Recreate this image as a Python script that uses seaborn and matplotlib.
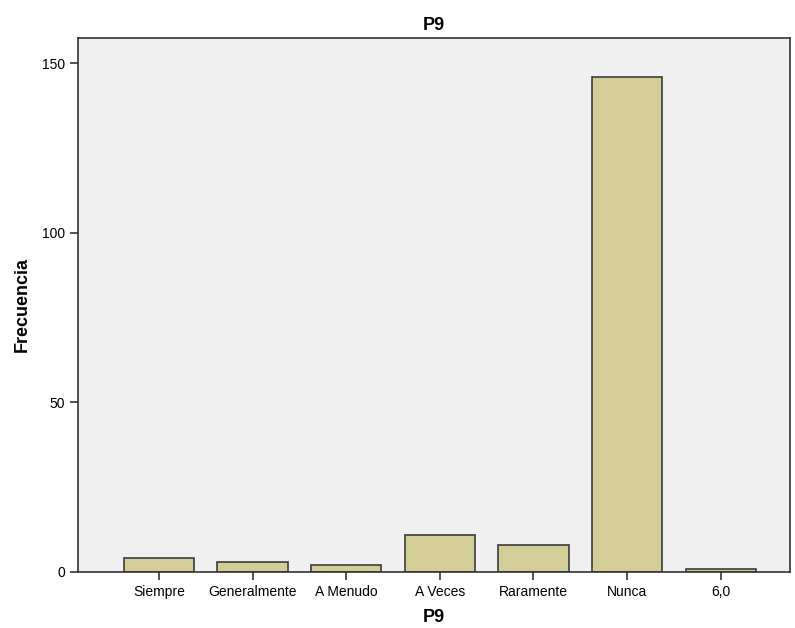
import seaborn as sns
import pandas as pd
from matplotlib import pyplot as plt

categorias = ['Siempre', 'Generalmente', 'A Menudo', 'A Veces', 'Raramente', 'Nunca', '6,0']
frecuencia = [4, 3, 2, 11, 8, 146, 1]

df = pd.DataFrame({'P9': categorias, 'Frecuencia': frecuencia})

sns.set_style('ticks')
plt.rcParams['font.family'] = ['Liberation Sans', 'DejaVu Sans']
plt.rcParams['text.color'] = 'black'
plt.rcParams['axes.labelcolor'] = 'black'
plt.rcParams['xtick.color'] = 'black'
plt.rcParams['ytick.color'] = 'black'

fig = plt.figure(figsize=(7.95, 6.28), dpi=100)
ax = fig.add_axes([0.0981, 0.0892, 0.8956, 0.8503])
ax.set_facecolor('#f0f0f0')

sns.barplot(data=df, x='P9', y='Frecuencia', color='#d3ce97', saturation=1,
            width=0.75, edgecolor='#3c3c3c', linewidth=1.2, ax=ax)

ax.set_xlim(-0.865, 6.74)
ax.set_ylim(0, 157.5)
ax.set_yticks([0, 50, 100, 150])
ax.tick_params(axis='both', labelsize=10, length=6, width=1.2, color='#333333')
for s in ax.spines.values():
    s.set_color('#333333')
    s.set_linewidth(1.2)

ax.set_title('P9', fontsize=13, fontweight='bold', pad=6)
ax.set_xlabel('P9', fontsize=13, fontweight='bold', labelpad=7)
ax.set_ylabel('Frecuencia', fontsize=13, fontweight='bold', labelpad=8)

fig.savefig('out.png', dpi=100)
